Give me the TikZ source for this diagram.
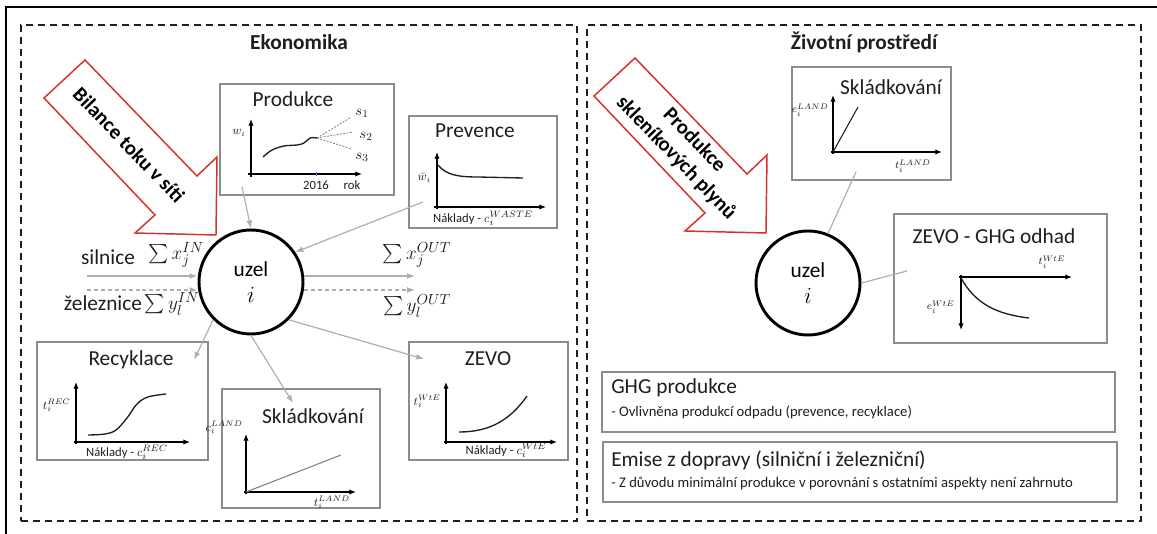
\documentclass[tikz,border=0pt]{standalone}
\usepackage{fontspec}
\setmainfont{Carlito}
\usepackage{amsmath}
\usetikzlibrary{arrows.meta,fit}
\definecolor{alizarin}{RGB}{214, 48, 43}
\definecolor{concrete}{RGB}{140, 140, 140}
\definecolor{silver}{RGB}{175, 175, 175}
\definecolor{ink}{RGB}{30, 30, 30}
\tikzset{
  panel/.style={draw=ink, line width=1.9pt, dash pattern=on 5.5pt off 3.5pt, inner sep=0pt},
  plotbox/.style={draw=concrete, line width=1.1pt, inner sep=0pt},
  heading/.style={font=\fontsize{16}{19}\selectfont\bfseries, text=ink},
  boxtitle/.style={font=\fontsize{16}{19}\selectfont, text=ink, inner sep=0pt},
  flowtext/.style={font=\fontsize{16}{19}\selectfont, text=ink, inner sep=0pt},
  note/.style={font=\fontsize{11}{13}\selectfont, text=ink, inner sep=0pt},
  ticktext/.style={font=\fontsize{9.5}{11}\selectfont, text=ink, inner sep=0pt},
  axislabel/.style={font=\fontsize{9}{10}\selectfont, text=ink, inner sep=0pt},
  tinylabel/.style={font=\fontsize{8}{9}\selectfont, text=ink, inner sep=0pt},
  uzel/.style={circle, draw=black, line width=2.2pt, minimum size=78pt, inner sep=0pt,
    align=center, font=\fontsize{16}{19.5}\selectfont},
  redarrow/.style={draw=alizarin, line width=1.1pt, fill=white, line join=miter},
  arrowtext/.style={font=\fontsize{15.5}{19}\selectfont\bfseries, text=black, align=center},
  flow/.style={draw=silver, line width=0.9pt, -{Latex[length=6pt,width=4.5pt]}},
  link/.style={draw=silver, line width=0.9pt},
  plotaxis/.style={draw=black, line width=0.9pt, -{Latex[length=5pt,width=4pt]}},
  curve/.style={draw=ink, line width=1pt},
  scenario/.style={draw=gray, line width=0.6pt, dash pattern=on 1.5pt off 1pt},
}
\begin{document}
\begin{tikzpicture}[x=0.75pt, y=-0.75pt]
  \useasboundingbox (0,0) rectangle (1157,534);
  % Frame
  \draw[line width=1.9pt] (1157,7) -- (6,7) -- (6,534);
  % Panels
  \node[panel, fit={(21,25) (577,521)}] (eko) {};
  \node[panel, fit={(587,25) (1141,521)}] (env) {};
  \node[heading] (ekoTitle) at (299,42) {Ekonomika};
  \node[heading] (envTitle) at (864,42) {Životní prostředí};

  % Big red arrows
  \draw[redarrow] (85,60) -- (44,98) -- (155,215) -- (135,233) -- (216,235) -- (217,157) -- (197,176) -- cycle;
  \node[arrowtext, rotate=-46] (bilance) at (129,145) {Bilance toku v síti};
  \begin{scope}[shift={(550,-2)}]
    \draw[redarrow] (85,60) -- (44,98) -- (155,215) -- (135,233) -- (216,235) -- (217,157) -- (197,176) -- cycle;
  \end{scope}
  \node[arrowtext, rotate=-46] (skleniky) at (685,149) {Produkce\\skleníkových plynů};

  % Nodes
  \node[uzel] (uzelL) at (251,282) {uzel\\$i$};
  \node[uzel] (uzelR) at (808,283) {uzel\\$i$};

  % Produkce
  \node[plotbox, fit={(220,84) (394,195)}] (produkce) {};
  \node[boxtitle] (produkceTitle) at (293,99) {Produkce};
  \draw[plotaxis] (248,174) -- (362,174);
  \draw[plotaxis] (251,177) -- (251,119);
  \draw[blue!60, line width=0.6pt] (316,172) -- (316,176);
  \draw[curve] plot[smooth, tension=0.6] coordinates {(263,157) (272,150) (284,146) (297,145) (304,143) (310,138) (317,138)};
  \draw[scenario] (317,138) -- (350,118);
  \draw[scenario] (317,138) -- (353,132);
  \draw[scenario] (317,138) -- (352,149);
  \node[axislabel] (wi) at (239,133) {$w_i$};
  \node[axislabel, font=\fontsize{11}{12}\selectfont] (s1) at (362,113) {$s_1$};
  \node[axislabel, font=\fontsize{11}{12}\selectfont] (s2) at (366,136) {$s_2$};
  \node[axislabel, font=\fontsize{11}{12}\selectfont] (s3) at (362,157) {$s_3$};
  \node[ticktext] (rok2016) at (316,185) {2016};
  \node[ticktext] (rok) at (352,185) {rok};

  % Prevence
  \node[plotbox, fit={(409,116) (557,228)}] (prevence) {};
  \node[boxtitle] (prevenceTitle) at (475,131) {Prevence};
  \draw[plotaxis] (434,207) -- (546,207);
  \draw[plotaxis] (437,209) -- (437,152);
  \draw[curve] (438,165) .. controls (446,175) and (458,177) .. (478,177) -- (523,178);
  \node[axislabel, anchor=east] (wbar) at (431,178) {$\bar{w}_i$};
  \node[ticktext] (prevCost) at (483,218) {Náklady - $c_i^{WASTE}$};

  % Recyklace
  \node[plotbox, fit={(37,342) (208,460)}] (recyklace) {};
  \node[boxtitle] (recyklaceTitle) at (131,360) {Recyklace};
  \draw[plotaxis] (74,442) -- (190,442);
  \draw[plotaxis] (76,444) -- (76,382);
  \draw[curve] plot[smooth, tension=0.6] coordinates {(88,435) (105,434) (116,430) (127,418) (137,404) (148,397) (166,394)};
  \node[axislabel, anchor=east] (tRec) at (71,405) {$t_i^{REC}$};
  \node[ticktext] (recCost) at (127,452) {Náklady - $c_i^{REC}$};

  % Skladkovani
  \node[plotbox, fit={(222,389) (380,508)}] (skladka) {};
  \node[boxtitle] (skladkaTitle) at (313,416) {Skládkování};
  \draw[plotaxis] (244,492) -- (356,492);
  \draw[plotaxis] (246,494) -- (246,434);
  \draw[draw=gray, line width=0.8pt] (246,492) -- (341,455);
  \node[axislabel, anchor=east] (cLand) at (243,427) {$c_i^{LAND}$};
  \node[axislabel] (tLand) at (332,502) {$t_i^{LAND}$};

  % ZEVO
  \node[plotbox, fit={(409,342) (568,460)}] (zevo) {};
  \node[boxtitle] (zevoTitle) at (488,359) {ZEVO};
  \draw[plotaxis] (444,442) -- (557,442);
  \draw[plotaxis] (446,444) -- (446,382);
  \draw[curve] (459,432) .. controls (490,432) and (510,420) .. (527,396);
  \node[axislabel, anchor=east] (tWte) at (441,401) {$t_i^{WtE}$};
  \node[ticktext] (zevoCost) at (506,450) {Náklady - $c_i^{WtE}$};

  % Flows into and out of the node
  \coordinate (prodOut) at (242,187);
  \coordinate (prevOut) at (423,202);
  \coordinate (recIn) at (194,360);
  \coordinate (sklIn) at (293,403);
  \coordinate (zevoIn) at (424,359);
  \draw[flow] (prodOut) -- (uzelL.north);
  \draw[flow] (prevOut) -- (uzelL.34);
  \draw[flow] (uzelL.225) -- (recIn);
  \draw[flow] (uzelL.south) -- (sklIn);
  \draw[flow] (uzelL.-45) -- (zevoIn);

  \coordinate (silniceIn) at (87,276);
  \coordinate (zelezniceIn) at (87,290);
  \coordinate (silniceOut) at (415,276);
  \coordinate (zelezniceOut) at (415,290);
  \draw[flow] (silniceIn) -- (silniceIn -| uzelL.west);
  \draw[flow, dash pattern=on 3pt off 2.2pt] (zelezniceIn) -- (zelezniceIn -| uzelL.west);
  \draw[flow] (silniceOut -| uzelL.east) -- (silniceOut);
  \draw[flow, dash pattern=on 3pt off 2.2pt] (zelezniceOut -| uzelL.east) -- (zelezniceOut);

  \node[flowtext] (silnice) at (108,257) {silnice};
  \node[flowtext] (zeleznice) at (103,303) {železnice};
  \node[flowtext, font=\fontsize{15}{18}\selectfont] (sumXin) at (176,255) {$\sum x_j^{IN}$};
  \node[flowtext, font=\fontsize{15}{18}\selectfont] (sumYin) at (172,304) {$\sum y_l^{IN}$};
  \node[flowtext, font=\fontsize{15}{18}\selectfont] (sumXout) at (417,255) {$\sum x_j^{OUT}$};
  \node[flowtext, font=\fontsize{15}{18}\selectfont] (sumYout) at (417,306) {$\sum y_l^{OUT}$};

  % Zivotni prostredi: Skladkovani
  \node[plotbox, fit={(792,67) (951,180)}] (skladkaR) {};
  \node[boxtitle] (skladkaRTitle) at (891,87) {Skládkování};
  \draw[plotaxis] (831,152) -- (942,152);
  \draw[plotaxis] (833,154) -- (833,95);
  \draw[curve, line width=0.8pt] (833,152) -- (858,107);
  \node[tinylabel, anchor=east] (eLand) at (829,110) {$e_i^{LAND}$};
  \node[tinylabel] (tLandR) at (913,166) {$t_i^{LAND}$};

  % ZEVO - GHG
  \node[plotbox, fit={(894,214) (1107,343)}] (ghgZevo) {};
  \node[boxtitle] (ghgZevoTitle) at (994,236) {ZEVO - GHG odhad};
  \draw[plotaxis] (959,277) -- (1072,277);
  \draw[plotaxis] (961,275) -- (961,330);
  \draw[curve] (961,278) .. controls (975,303) and (995,314) .. (1029,318);
  \node[tinylabel] (tWteR) at (1052,262) {$t_i^{WtE}$};
  \node[tinylabel, anchor=east] (eWte) at (955,307) {$e_i^{WtE}$};

  \coordinate (sklOut) at (856,172);
  \coordinate (ghgIn) at (907,271);
  \draw[link] (sklOut) -- (uzelR.68);
  \draw[link] (uzelR.east) -- (ghgIn);

  % Text boxes
  \node[plotbox, fit={(602,372) (1115,432)}] (ghgBox) {};
  \node[boxtitle, anchor=west] (ghgTitle) at (611,388) {GHG produkce};
  \node[note, anchor=west] (ghgNote) at (611,412) {- Ovlivněna produkcí odpadu (prevence, recyklace)};
  \node[plotbox, fit={(603,442) (1117,502)}] (emiseBox) {};
  \node[boxtitle, anchor=west] (emiseTitle) at (611,460) {Emise z dopravy (silniční i železniční)};
  \node[note, anchor=west] (emiseNote) at (611,483) {- Z důvodu minimální produkce v porovnání s ostatními aspekty není zahrnuto};
\end{tikzpicture}
\end{document}
